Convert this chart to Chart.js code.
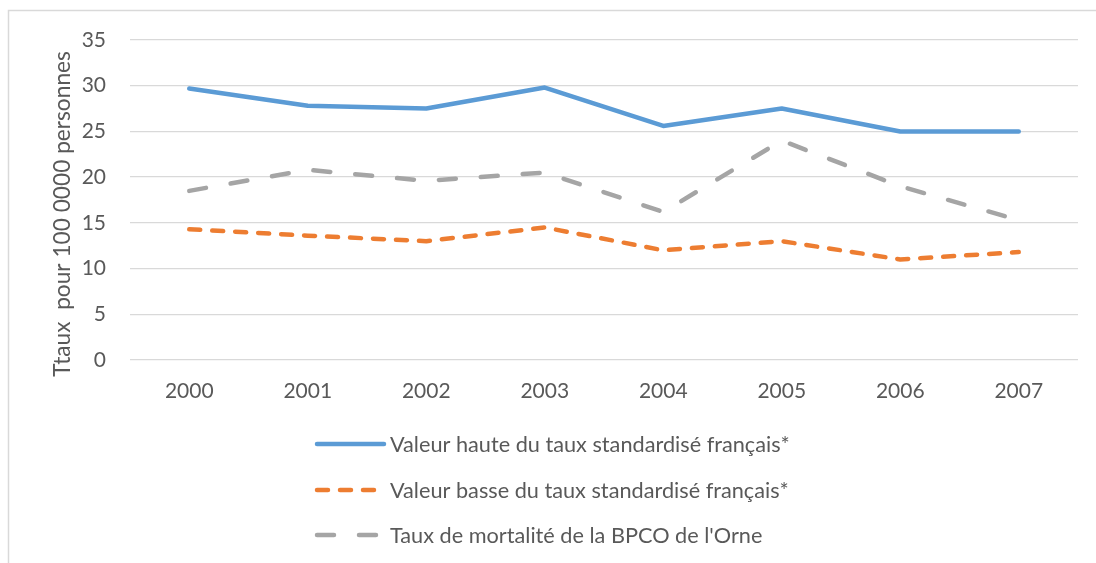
<!DOCTYPE html>
<html>
<head>
<meta charset="utf-8">
<script src="https://cdn.jsdelivr.net/npm/chart.js@4"></script>
<style>
  html, body { margin: 0; padding: 0; background: #fff; }
  #wrap { width: 1096px; height: 563px; position: relative; }
</style>
</head>
<body>
<div id="wrap"><canvas id="bpco-chart"></canvas></div>
<script>
const years = ["2000", "2001", "2002", "2003", "2004", "2005", "2006", "2007"];
const valeurHaute = [29.7, 27.8, 27.5, 29.8, 25.6, 27.5, 25.0, 25.0];
const valeurBasse = [14.3, 13.6, 13.0, 14.5, 12.0, 13.0, 11.0, 11.8];
const tauxOrne = [18.5, 20.8, 19.6, 20.5, 16.2, 24.0, 19.0, 15.3];
const yTicks = [0, 5, 10, 15, 20, 25, 30, 35];
const yTitle = "Ttaux  pour 100 0000 personnes";

const FONT = "Lato, 'Liberation Sans', sans-serif";
const TEXT = "#595959";

// cadre + titre de l'axe + légende dessinés à la main (légende Excel alignée à gauche)
const excelLegend = {
  id: "excelLegend",
  afterDraw(chart) {
    const c = chart.ctx;
    c.save();
    c.strokeStyle = "#d9d9d9";
    c.lineWidth = 1.5;
    c.beginPath();
    c.moveTo(8.5, 563);
    c.lineTo(8.5, 10.5);
    c.lineTo(1096, 10.5);
    c.stroke();

    c.fillStyle = TEXT;
    c.font = "22.7px " + FONT;
    c.textAlign = "center";
    c.textBaseline = "middle";
    c.translate(63, 214);
    c.rotate(-Math.PI / 2);
    c.fillText(yTitle, 0, 0);
    c.restore();

    const rows = [444, 490, 535];
    chart.data.datasets.forEach((ds, i) => {
      const y = rows[i];
      c.save();
      c.strokeStyle = ds.borderColor;
      c.lineWidth = ds.borderWidth;
      c.lineCap = "round";
      c.setLineDash(ds.borderDash || []);
      c.beginPath();
      c.moveTo(317, y);
      c.lineTo(384, y);
      c.stroke();
      c.restore();
      c.save();
      c.fillStyle = TEXT;
      c.font = "21.7px " + FONT;
      c.textBaseline = "middle";
      c.fillText(ds.label, 390, y + 1);
      c.restore();
    });
  },
};

const ctx = document.getElementById("bpco-chart").getContext("2d");
const chart = new Chart(ctx, {
  type: "line",
  data: {
    labels: years,
    datasets: [
      {
        label: "Valeur haute du taux standardisé français*",
        data: valeurHaute,
        borderColor: "#5b9bd5",
        borderWidth: 4.5,
      },
      {
        label: "Valeur basse du taux standardisé français*",
        data: valeurBasse,
        borderColor: "#ed7d31",
        borderWidth: 4.5,
        borderDash: [11, 12],
      },
      {
        label: "Taux de mortalité de la BPCO de l'Orne",
        data: tauxOrne,
        borderColor: "#a5a5a5",
        borderWidth: 4.5,
        borderDash: [17, 25],
      },
    ],
  },
  options: {
    responsive: true,
    maintainAspectRatio: false,
    animation: false,
    layout: { padding: { top: 40, right: 18, bottom: 163, left: 0 } },
    elements: {
      point: { radius: 0 },
      line: { tension: 0, borderCapStyle: "round", borderJoinStyle: "round" },
    },
    plugins: { legend: { display: false }, tooltip: { enabled: false } },
    scales: {
      x: {
        offset: true,
        grid: { display: false },
        border: { display: false },
        ticks: { color: TEXT, font: { family: FONT, size: 21 }, padding: 11 },
        afterFit(scale) { scale.height = 40; },
      },
      y: {
        min: 0,
        max: 35,
        afterBuildTicks(scale) { scale.ticks = yTicks.map((v) => ({ value: v })); },
        grid: { color: "#d9d9d9", lineWidth: 1.3, drawTicks: false },
        border: { display: false },
        ticks: { color: TEXT, font: { family: FONT, size: 21 }, padding: 24 },
        afterFit(scale) { scale.width = 130; },
      },
    },
  },
  plugins: [excelLegend],
});
</script>
</body>
</html>
